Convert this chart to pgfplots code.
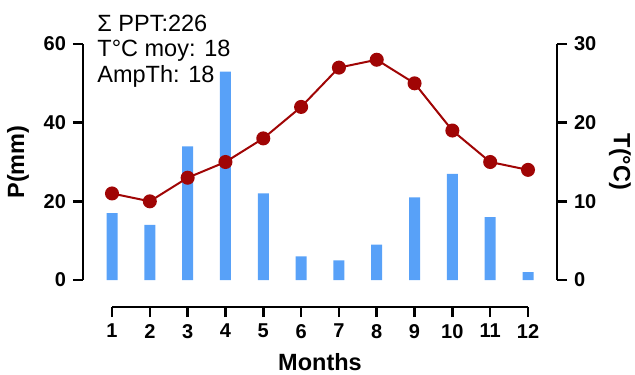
\documentclass[border=0pt]{standalone}
\usepackage{fontspec}
\setmainfont{Liberation Sans}
\usepackage{pgfplots}
\pgfplotsset{compat=1.18}
\definecolor{barblue}{RGB}{88,161,248}
\definecolor{linered}{RGB}{160,5,5}
\begin{document}
\begin{tikzpicture}
\pgfplotsset{
 common/.style={scale only axis, width=237pt, height=118pt, at={(0,0)}, anchor=south west,
 /pgf/number format/assume math mode=true,
 tick label style={font=\fontsize{10}{12}\selectfont\bfseries},
 axis line style={line width=1.3pt,-},
 major tick style={line width=1.3pt, black},
 major tick length=5pt, tick align=outside,
 }
}
\begin{axis}[common, xmin=0.233, xmax=12.767, axis y line*=left, axis x line=none, xtick=\empty,
  ymin=0, ymax=60, ytick={0,20,40,60}, ylabel={P(mm)},
  every axis y label/.style={at={(axis description cs:-0.137,0.5)},anchor=center,rotate=90,font=\fontsize{11.75}{14}\selectfont\bfseries},
  ybar, bar width=5.5pt]
\addplot[draw=none, fill=barblue] coordinates {(1,17)(2,14)(3,34)(4,53)(5,22)(6,6)(7,5)(8,9)(9,21)(10,27)(11,16)(12,2)};
\end{axis}
\begin{axis}[common, xmin=0.233, xmax=12.767, axis y line*=right, axis x line=none, xtick=\empty,
  ymin=0, ymax=30, ytick={0,10,20,30}, ylabel={T(°C)},
  every axis y label/.style={at={(axis description cs:1.133,0.5)},anchor=center,rotate=-90,font=\fontsize{11.75}{14}\selectfont\bfseries}]
\addplot[color=linered, line width=1pt, mark=*, mark size=3pt, mark options={fill=linered, draw=linered}] coordinates {(1,11)(2,10)(3,13)(4,15)(5,18)(6,22)(7,27)(8,28)(9,25)(10,19)(11,15)(12,14)};
\end{axis}
\begin{axis}[common, at={(14.5pt,-13.5pt)}, width=208pt, height=10pt, xmin=1, xmax=12, ymin=0, ymax=1,
  axis x line*=bottom, axis y line=none, ytick=\empty, xtick={1,...,12}, xlabel={Months},
  every axis x label/.style={at={(axis description cs:0.5,0)},yshift=-27.5pt,anchor=center,font=\fontsize{11.75}{14}\selectfont\bfseries}]
\addplot[draw=none] coordinates {(1,0)};
\end{axis}
\node[anchor=base west, inner sep=0pt, font=\fontsize{11.75}{14}\selectfont] at (7pt,124pt) {Σ PPT:226};
\node[anchor=base west, inner sep=0pt, font=\fontsize{11.75}{14}\selectfont] at (7pt,111.5pt) {T°C moy: 18};
\node[anchor=base west, inner sep=0pt, font=\fontsize{11.75}{14}\selectfont] at (7pt,98.5pt) {AmpTh: 18};
\pgfresetboundingbox
\path (-41.5pt,-47pt) rectangle (276pt,140pt);
\end{tikzpicture}
\end{document}
